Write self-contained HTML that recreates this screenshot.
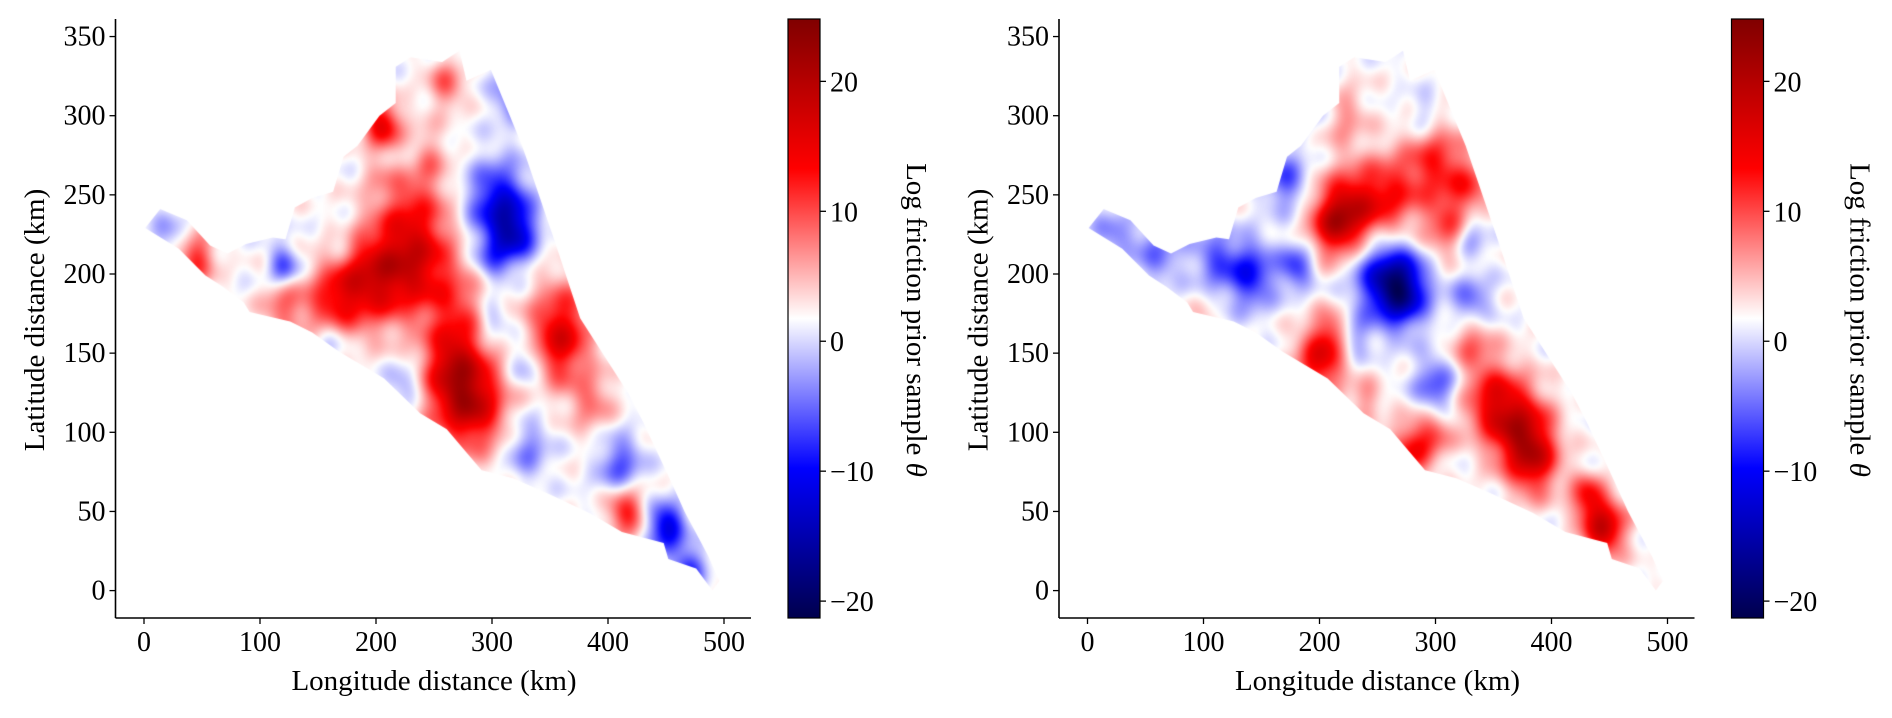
<!DOCTYPE html>
<html><head><meta charset="utf-8">
<style>
html,body{margin:0;padding:0;background:#fff;}
#root{position:relative;width:1892px;height:718px;overflow:hidden;font-family:"Liberation Serif",serif;}
canvas{position:absolute;left:0;top:0;}
svg{position:absolute;left:0;top:0;}
</style></head>
<body>
<div id="root">
<canvas id="cv" width="1892" height="718"></canvas>
<svg id="sv" width="1892" height="718"></svg>
</div>
<script>
// ---- domain outline (km) ----
const outlineX = [1,14,37,57,72,88,111,122,130,145,163,172,184,203,217,217,230,257,272,278,299,326,353,376,418,430,453,466,487,496,490,476,452,448,412,384,349,318,291,261,238,207,168,145,126,91,86,68,53,30];
const outlineY = [229,241,234,218,213,219,223,222,242,248,252,274,281,300,308,331,337,334,341,322,329,281,223,172,124,107,71,50,21,6,0,14,20,30,37,49,61,71,76,102,112,134,151,163,170,176,182,192,199,216];
// ---- left panel field blobs ----
const leftBlobX = [210,240,185,270,230,270,285,265,360,355,385,205,260,160,120,45,415,240,305,320,300,320,120,450,470,410,330,330,160,225,20,300,230,170,200];
const leftBlobY = [200,205,195,180,240,130,115,150,170,150,120,295,320,180,180,210,50,275,245,225,210,315,205,40,15,80,90,145,160,130,225,170,275,220,260];
const leftBlobR = [22,22,20,18,22,22,20,16,20,16,14,11,11,16,13,11,11,13,18,13,11,13,9,11,9,13,13,11,11,11,11,9,9,9,9];
const leftBlobV = [9,9,9,6,8,12,10,6,10,7,6,13,7,9,7,10,11,5,-13,-11,-6,-8,-9,-14,-10,-8,-6,-6,-5,-5,-4,-5,-4,-3,2];
// ---- right panel field blobs ----
const rightBlobX = [270,250,140,110,60,20,180,330,300,170,190,330,460,230,225,210,260,300,310,330,220,200,210,350,375,385,330,445,430,280,300,240,100,290];
const rightBlobY = [190,200,200,210,215,225,205,180,130,260,310,225,115,160,240,230,250,270,230,255,300,145,165,120,100,80,160,40,60,90,100,120,170,300];
const rightBlobR = [16,18,15,13,16,13,10,13,13,13,13,10,9,10,18,14,18,18,14,13,14,15,10,18,18,15,13,13,10,13,10,10,9,10];
const rightBlobV = [-18,-9,-11,-7,-6,-5,-9,-8,-8,-8,-6,-6,-6,-5,14,9,10,10,8,7,5,13,6,12,14,10,8,16,10,11,6,5,3,-4];
// ---- colorbar / ticks ----
const vmin = -21.3, vmax = 24.8;
const cbTicks = [-20,-10,0,10,20];
const xTicks = [0,100,200,300,400,500];
const yTicks = [0,50,100,150,200,250,300,350];

const panels = [
  {off:0, bx:leftBlobX, by:leftBlobY, br:leftBlobR, bv:leftBlobV, name:'left'},
  {off:943.5, bx:rightBlobX, by:rightBlobY, br:rightBlobR, bv:rightBlobV, name:'right'}
];
const X0=144, KX=1.16, Y0=590.6, KY=1.583;
const AX_L=115.5, AX_T=19, AX_B=618, AX_R=751;
const CB_L=788, CB_W=32;
function sx(v,off){return off+X0+v*KX;}
function sy(v){return Y0-v*KY;}
function cby(v){return AX_T+(vmax-v)/(vmax-vmin)*(AX_B-AX_T);}
function cmap(v){
  let t=(v-vmin)/(vmax-vmin); t=Math.max(0,Math.min(1,t));
  const st=[[0,0,0,77],[0.25,0,0,255],[0.5,255,255,255],[0.75,255,0,0],[1,128,0,0]];
  for(let i=0;i<4;i++){if(t<=st[i+1][0]){const a=st[i],b=st[i+1],f=(t-a[0])/(b[0]-a[0]);
    return [a[1]+(b[1]-a[1])*f,a[2]+(b[2]-a[2])*f,a[3]+(b[3]-a[3])*f];}}
  return [128,0,0];
}
const cv=document.getElementById('cv'), ctx=cv.getContext('2d');
panels.forEach(p=>{
  const off=p.off;
  const x0=Math.floor(sx(-5,off)), x1=Math.ceil(sx(505,off)), y0=Math.floor(sy(345)), y1=Math.ceil(sy(-5));
  const w=x1-x0, h=y1-y0;
  const oc=document.createElement('canvas'); oc.width=w; oc.height=h;
  const octx=oc.getContext('2d'); const img=octx.createImageData(w,h);
  for(let j=0;j<h;j++){for(let i=0;i<w;i++){
    const kx=(x0+i-off-X0)/KX, ky=(Y0-(y0+j))/KY;
    let s=0;
    for(let b=0;b<p.bx.length;b++){const dx=kx-p.bx[b],dy=ky-p.by[b],r=p.br[b];
      s+=p.bv[b]*Math.exp(-(dx*dx+dy*dy)/(2*r*r));}
    s+=1.2*Math.sin(kx*0.173+ky*0.091+off)*Math.cos(ky*0.137-kx*0.061)+0.8*Math.sin(kx*0.051-ky*0.233+1.3);
    const c=cmap(s+1.75); const k=(j*w+i)*4;
    img.data[k]=c[0];img.data[k+1]=c[1];img.data[k+2]=c[2];img.data[k+3]=255;}}
  octx.putImageData(img,0,0);
  ctx.save(); ctx.beginPath();
  outlineX.forEach((v,i)=>{const X=sx(v,off),Y=sy(outlineY[i]); i?ctx.lineTo(X,Y):ctx.moveTo(X,Y);});
  ctx.closePath(); ctx.clip(); ctx.filter='blur(1.5px)'; ctx.drawImage(oc,x0,y0); ctx.restore();
});
// ---- SVG axes ----
const NS='http://www.w3.org/2000/svg', sv=document.getElementById('sv');
function el(tag,attrs,parent,txt){const e=document.createElementNS(NS,tag);for(const k in attrs)e.setAttribute(k,attrs[k]);if(txt!==undefined)e.textContent=txt;(parent||sv).appendChild(e);return e;}
const defs=el('defs',{});
const lg=el('linearGradient',{id:'cbg',x1:0,y1:1,x2:0,y2:0},defs);
for(let i=0;i<=20;i++){const v=vmin+(vmax-vmin)*i/20,c=cmap(v);el('stop',{offset:(i*5)+'%','stop-color':'rgb('+c.map(Math.round).join(',')+')'},lg);}
panels.forEach(p=>{
  const off=p.off;
  const g=el('g',{});
  
  
  const ya=el('line',{x1:off+AX_L,y1:AX_T,x2:off+AX_L,y2:AX_B,stroke:'#000','stroke-width':1.6},g);
  
  
  const xa=el('line',{x1:off+AX_L,y1:AX_B,x2:off+AX_R,y2:AX_B,stroke:'#000','stroke-width':1.6},g);
  
  
  xTicks.forEach(v=>{const X=sx(v,off);
    el('line',{x1:X,y1:AX_B,x2:X,y2:AX_B+6,stroke:'#000','stroke-width':1.3},g);
    const t=el('text',{x:X,y:AX_B+33,'text-anchor':'middle','font-size':28},g,String(v));
    
    });
  yTicks.forEach(v=>{const Y=sy(v);
    el('line',{x1:off+AX_L-6,y1:Y,x2:off+AX_L,y2:Y,stroke:'#000','stroke-width':1.3},g);
    const t=el('text',{x:off+AX_L-10,y:Y+9,'text-anchor':'end','font-size':28},g,String(v));
    
    });
  const xl=el('text',{x:sx(250,off),y:690,'text-anchor':'middle','font-size':29},g,'Longitude distance (km)');
  
  
  const yl=el('text',{x:0,y:0,'text-anchor':'middle','font-size':29,transform:'translate('+(off+44)+',320) rotate(-90)'},g,'Latitude distance (km)');
  
  
  const cb=el('rect',{x:off+CB_L,y:AX_T,width:CB_W,height:AX_B-AX_T,fill:'url(#cbg)',stroke:'#000','stroke-width':1.2},g);
  
  
  cbTicks.forEach(v=>{const Y=cby(v);
    el('line',{x1:off+CB_L+CB_W,y1:Y,x2:off+CB_L+CB_W+6,y2:Y,stroke:'#000','stroke-width':1.3},g);
    const t=el('text',{x:off+CB_L+CB_W+10,y:Y+10,'font-size':28},g,(v<0?'\u2212':'')+Math.abs(v));
    
    });
  const cl=el('text',{x:0,y:0,'text-anchor':'middle','font-size':29,transform:'translate('+(off+907)+',320) rotate(90)'},g,'Log friction prior sample ');
  const th=el('tspan',{'font-style':'italic'},cl,'\u03b8');
  
  
});
</script>
</body></html>
